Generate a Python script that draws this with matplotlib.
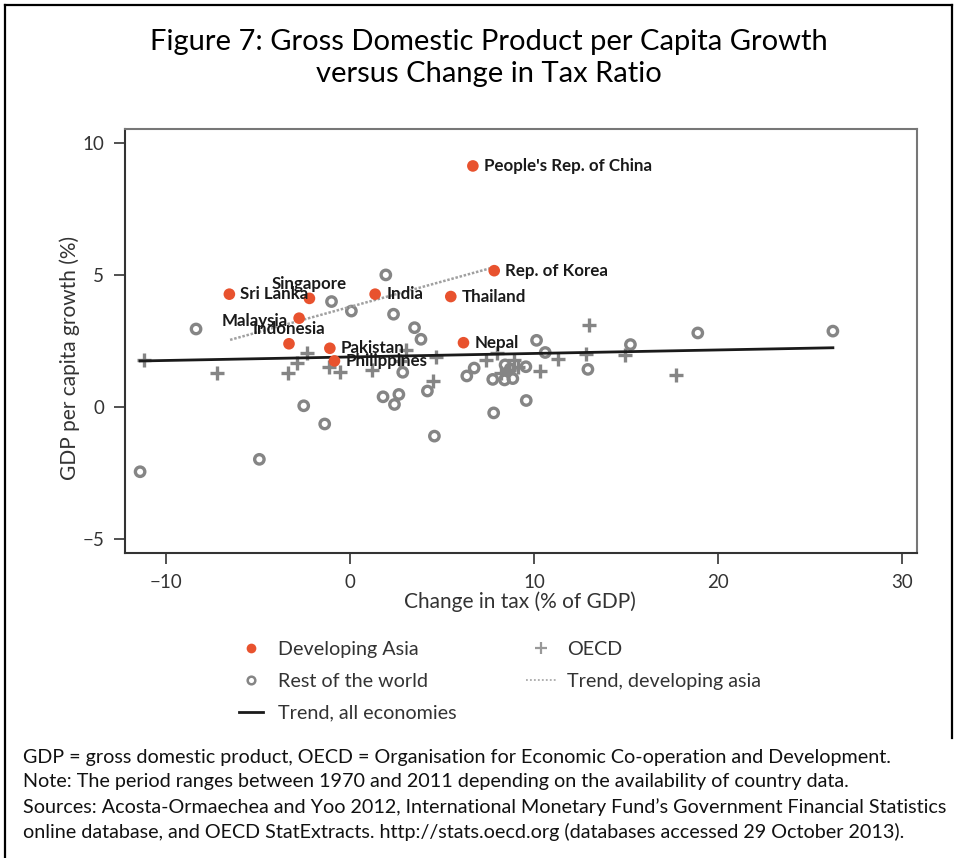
import matplotlib
matplotlib.use("Agg")
import matplotlib.pyplot as plt
from matplotlib.lines import Line2D
import numpy as np

plt.rcParams['font.family'] = ['Lato', 'DejaVu Sans']

# ---------------- data ----------------
asia_names = ["People's Rep. of China", "Rep. of Korea", "Thailand", "India", "Sri Lanka",
              "Singapore", "Malaysia", "Indonesia", "Pakistan", "Philippines", "Nepal"]
asia_x = [6.67, 7.83, 5.47, 1.36, -6.56, -2.21, -2.77, -3.32, -1.10, -0.85, 6.16]
asia_y = [9.14, 5.17, 4.19, 4.28, 4.28, 4.12, 3.37, 2.40, 2.23, 1.75, 2.44]
asia_label_pos = ["right", "right", "right", "right", "right",
                  "above", "left", "above", "right", "right", "right"]

row_x = [-11.41, -8.37, -4.93, -2.52, -1.38, -1.01, 0.07, 1.94, 2.36, 3.50, 3.85,
         2.86, 1.79, 2.65, 2.41, 4.20, 4.58, 6.34, 6.74, 7.75, 7.80, 8.42, 8.39,
         8.84, 8.70, 9.55, 9.57, 10.13, 10.60, 12.92, 15.23, 18.89, 26.23]
row_y = [-2.45, 2.96, -1.98, 0.05, -0.64, 4.00, 3.64, 5.01, 3.52, 3.01, 2.57,
         1.32, 0.39, 0.48, 0.10, 0.61, -1.10, 1.18, 1.48, 1.05, -0.22, 1.60, 1.03,
         1.08, 1.45, 1.53, 0.25, 2.53, 2.07, 1.43, 2.37, 2.81, 2.88]

oecd_x = [-11.2, -7.23, -3.35, -2.90, -2.32, -1.12, -0.53, 1.21, 2.72, 3.02, 4.53,
          4.66, 7.41, 7.97, 8.88, 8.22, 9.10, 10.33, 11.32, 12.81, 12.97, 14.91,
          17.73, 8.65]
oecd_y = [1.79, 1.28, 1.28, 1.68, 2.04, 1.53, 1.32, 1.41, 1.75, 2.18, 0.98,
          1.91, 1.78, 2.04, 1.78, 1.28, 1.52, 1.38, 1.84, 2.01, 3.11, 1.96,
          1.23, 1.40]

# trend lines: (intercept, slope) and x-range for asia
trend_all = (1.90, 0.0133)
trend_asia = (3.80, 0.192)
trend_asia_range = (-6.52, 7.6)

x_ticks = [-10, 0, 10, 20, 30]
y_ticks = [-5, 0, 5, 10]

title = "Figure 7: Gross Domestic Product per Capita Growth\nversus Change in Tax Ratio"
notes = ["GDP = gross domestic product, OECD = Organisation for Economic Co-operation and Development.",
         "Note: The period ranges between 1970 and 2011 depending on the availability of country data.",
         "Sources: Acosta-Ormaechea and Yoo 2012, International Monetary Fund\u2019s Government Financial Statistics",
         "online database, and OECD StatExtracts. http://stats.oecd.org (databases accessed 29 October 2013)."]

# ---------------- figure ----------------
W, H = 958, 858
fig = plt.figure(figsize=(W / 100, H / 100), dpi=100)
fig.patch.set_facecolor('white')

ORANGE = '#E8522E'
GRAY = '#858585'
TXT = '#333333'

ax = fig.add_axes([125 / W, 1 - 553 / H, (917 - 125) / W, (553 - 129) / H])
ax.set_xlim(-12.23, 30.8)
ax.set_ylim(-5.53, 10.54)

# trend all economies
allx = row_x + oecd_x + asia_x
xa = np.array([min(allx), max(allx)])
ax.plot(xa, trend_all[0] + trend_all[1] * xa, color='#1a1a1a', lw=2.0, zorder=4)
# trend asia
xs = np.array(trend_asia_range)
ax.plot(xs, trend_asia[0] + trend_asia[1] * xs,
        color='#a0a0a0', lw=1.8, linestyle=(0, (1.0, 0.7)), zorder=3)

ax.scatter(row_x, row_y, s=46, facecolors='none', edgecolors=GRAY, linewidths=2.4, zorder=2)
ax.scatter(oecd_x, oecd_y, s=110, marker='+', color=GRAY, linewidths=2.4, zorder=2)
ax.scatter(asia_x, asia_y, s=70, color=ORANGE, edgecolors='none', zorder=5)

for n, x, y, p in zip(asia_names, asia_x, asia_y, asia_label_pos):
    if p == "right":
        off, ha, va = (8, 0), 'left', 'center'
    elif p == "left":
        off, ha, va = (-8, -2), 'right', 'center'
    else:
        off, ha, va = (0, 10.5), 'center', 'center'
    ax.annotate(n, (x, y), xytext=off, textcoords='offset points', ha=ha, va=va,
                fontsize=12.2, fontweight='bold', color='#1a1a1a', zorder=6)

ax.set_xticks(x_ticks)
ax.set_yticks(y_ticks)
ax.set_xticklabels([f"{v}".replace('-', '\u2212') for v in x_ticks])
ax.set_yticklabels([f"{v}".replace('-', '\u2212') for v in y_ticks])
ax.tick_params(direction='out', length=8, width=1.2, colors='#333333', labelsize=13.5,
               pad=7, labelcolor=TXT)
for s in ['left', 'bottom']:
    ax.spines[s].set_color('#333333')
    ax.spines[s].set_linewidth(1.5)
for s in ['top', 'right']:
    ax.spines[s].set_color('#777777')
    ax.spines[s].set_linewidth(1.5)

ax.set_xlabel("Change in tax (% of GDP)", fontsize=15, color=TXT)
ax.set_ylabel("GDP per capita growth (%)", fontsize=15, color=TXT)
ax.xaxis.set_label_coords((520 - 125) / (917 - 125), -(591 - 553) / (553 - 129))
ax.yaxis.set_label_coords(-(125 - 80) / (917 - 125), (553 - 358) / (553 - 129))

fig.text(0.51, 1 - 58 / H, title, ha='center', va='center', fontsize=21, color='black',
         linespacing=1.25)

# legend
LFS = 14.2
h1 = [Line2D([], [], ls='none', marker='o', ms=7, color=ORANGE, mec='none'),
      Line2D([], [], ls='none', marker='o', ms=5.5, mfc='none', mec=GRAY, mew=1.8),
      Line2D([], [], color='#1a1a1a', lw=2)]
fig.legend(h1, ["Developing Asia", "Rest of the world", "Trend, all economies"],
           loc='upper left', bbox_to_anchor=(239 / W, 1 - 641 / H), frameon=False,
           fontsize=LFS, labelcolor=TXT, handlelength=1.2, handletextpad=0.8,
           labelspacing=0.75, borderaxespad=0, borderpad=0)
h2 = [Line2D([], [], ls='none', marker='+', ms=9, color='#999999', mew=1.6),
      Line2D([], [], color='#aaaaaa', lw=1.3, linestyle=(0, (1, 1.2)))]
fig.legend(h2, ["OECD", "Trend, developing asia"],
           loc='upper left', bbox_to_anchor=(526 / W, 1 - 641 / H), frameon=False,
           fontsize=LFS, labelcolor=TXT, handlelength=1.5, handletextpad=0.6,
           labelspacing=0.75, borderaxespad=0, borderpad=0)

for i, t in enumerate(notes):
    fig.text(23 / W, 1 - (757 + 25 * i) / H, t, ha='left', va='center', fontsize=14.2,
             color='#111111')

# figure border
bk = dict(color='black', lw=1.6, transform=fig.transFigure)
fig.add_artist(Line2D([5 / W, 5 / W], [0, 1 - 5 / H], **bk))
fig.add_artist(Line2D([5 / W, 952 / W], [1 - 5 / H, 1 - 5 / H], **bk))
fig.add_artist(Line2D([952 / W, 952 / W], [1 - 5 / H, 1 - 738 / H], **bk))

fig.savefig("out.png", dpi=100, facecolor='white')
